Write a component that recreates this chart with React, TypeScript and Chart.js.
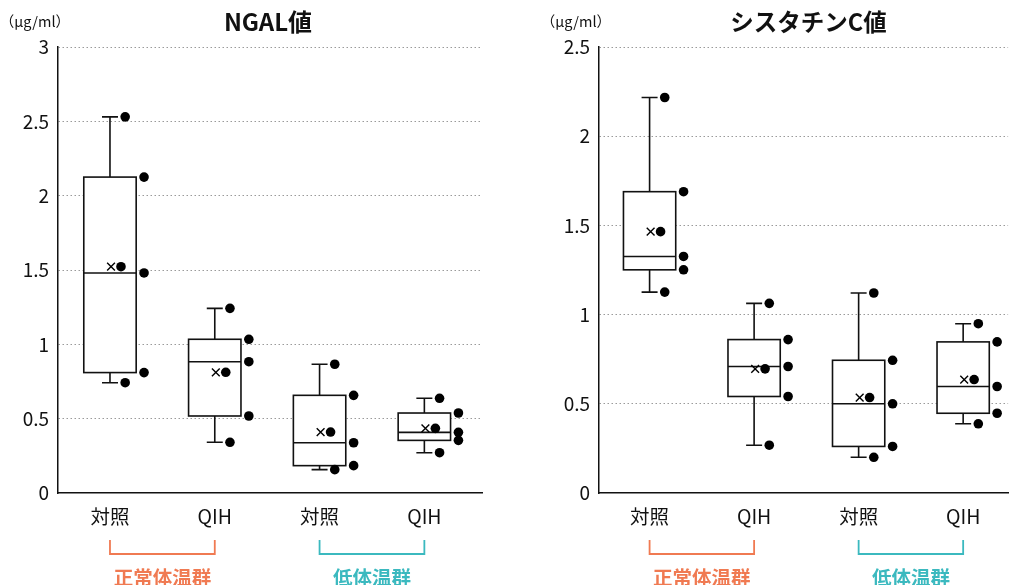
import React, { useEffect, useRef } from "react";
import { Chart, registerables } from "chart.js";

Chart.register(...registerables);

// ---------- data ----------
const categories = ["対照", "QIH", "対照", "QIH"];
const groupNames = ["正常体温群", "低体温群"];
const groupColors = ["#F07A52", "#3BB9BF"];
const unitLabel = "（μg/ml）";

const ngalTitle = "NGAL値";
const ngalPoints = [
  [2.53, 2.125, 1.48, 0.81, 0.742],
  [1.242, 1.034, 0.883, 0.518, 0.341],
  [0.866, 0.657, 0.338, 0.184, 0.157],
  [0.637, 0.538, 0.408, 0.354, 0.271],
];
const ngalMeans = [1.522, 0.812, 0.41, 0.435];
const ngalTicks = [0, 0.5, 1, 1.5, 2, 2.5, 3];

const cysTitle = "シスタチンC値";
const cysPoints = [
  [2.217, 1.689, 1.326, 1.251, 1.126],
  [1.063, 0.86, 0.709, 0.541, 0.268],
  [1.121, 0.744, 0.5, 0.261, 0.2],
  [0.949, 0.847, 0.597, 0.447, 0.388],
];
const cysMeans = [1.465, 0.696, 0.535, 0.636];
const cysTicks = [0, 0.5, 1, 1.5, 2, 2.5];

// ---------- helpers ----------
const FONT = "'Noto Sans CJK JP', 'Noto Sans', sans-serif";
const INK = "#111111";

function quartileInc(sorted: number[], p: number) {
  const pos = (sorted.length - 1) * p;
  const lo = Math.floor(pos);
  const hi = Math.ceil(pos);
  return sorted[lo] + (sorted[hi] - sorted[lo]) * (pos - lo);
}

function stats(points: number[]) {
  const s = [...points].sort((a, b) => a - b);
  return {
    min: s[0],
    q1: quartileInc(s, 0.25),
    med: quartileInc(s, 0.5),
    q3: quartileInc(s, 0.75),
    max: s[s.length - 1],
  };
}

type Cfg = {
  title: string;
  titleSize: number;
  titleShift: number;
  points: number[][];
  means: number[];
  ticks: number[];
  axisWidth: number;
  padRight: number;
  xMin: number;
  xMax: number;
  xAxisHeight: number;
};

function makePlugin(cfg: Cfg) {
  const st = cfg.points.map(stats);
  return {
    id: "boxplotDecor",
    beforeDatasetsDraw(chart: any) {
      const { ctx, scales } = chart;
      const x = scales.x;
      const y = scales.y;
      ctx.save();
      ctx.strokeStyle = INK;
      ctx.lineWidth = 1.6;
      st.forEach((s, i) => {
        const cx = x.getPixelForValue(i + 1);
        const half = x.getPixelForValue(i + 1.25) - cx;
        const cap = 8;
        const yMax = y.getPixelForValue(s.max);
        const yQ3 = y.getPixelForValue(s.q3);
        const yMed = y.getPixelForValue(s.med);
        const yQ1 = y.getPixelForValue(s.q1);
        const yMin = y.getPixelForValue(s.min);
        ctx.beginPath();
        ctx.moveTo(cx, yQ3);
        ctx.lineTo(cx, yMax);
        ctx.moveTo(cx - cap, yMax);
        ctx.lineTo(cx + cap, yMax);
        ctx.moveTo(cx, yQ1);
        ctx.lineTo(cx, yMin);
        ctx.moveTo(cx - cap, yMin);
        ctx.lineTo(cx + cap, yMin);
        ctx.stroke();
        ctx.fillStyle = "#ffffff";
        ctx.fillRect(cx - half, yQ3, half * 2, yQ1 - yQ3);
        ctx.strokeRect(cx - half, yQ3, half * 2, yQ1 - yQ3);
        ctx.beginPath();
        ctx.moveTo(cx - half, yMed);
        ctx.lineTo(cx + half, yMed);
        ctx.stroke();
      });
      ctx.restore();
    },
    afterDraw(chart: any) {
      const { ctx, chartArea, scales } = chart;
      const x = scales.x;
      ctx.save();
      ctx.fillStyle = INK;
      ctx.textAlign = "center";
      ctx.textBaseline = "middle";
      ctx.font = `bold ${cfg.titleSize}px ${FONT}`;
      ctx.fillText(cfg.title, (chartArea.left + chartArea.right) / 2 + cfg.titleShift, 22);
      ctx.font = `14.5px ${FONT}`;
      ctx.textAlign = "right";
      ctx.fillText(unitLabel, chartArea.left + 12, 21);
      const base = chartArea.bottom;
      groupNames.forEach((g, gi) => {
        const x1 = x.getPixelForValue(gi * 2 + 1);
        const x2 = x.getPixelForValue(gi * 2 + 2);
        ctx.strokeStyle = groupColors[gi];
        ctx.lineWidth = 1.8;
        ctx.beginPath();
        ctx.moveTo(x1, base + 47);
        ctx.lineTo(x1, base + 61);
        ctx.lineTo(x2, base + 61);
        ctx.lineTo(x2, base + 47);
        ctx.stroke();
        ctx.fillStyle = groupColors[gi];
        ctx.font = `bold 19.5px ${FONT}`;
        ctx.textAlign = "center";
        ctx.textBaseline = "middle";
        ctx.fillText(g, (x1 + x2) / 2, base + 85);
      });
      ctx.restore();
    },
  };
}

const OUTER_OFF = 0.145;
const INNER_OFF = 0.325;
const MEAN_DOT_OFF = 0.105;
const MEAN_X_OFF = 0.01;

function BoxChart({ cfg, left, width }: { cfg: Cfg; left: number; width: number }) {
  const ref = useRef<HTMLCanvasElement | null>(null);
  useEffect(() => {
    if (!ref.current) return;
    const pointData: { x: number; y: number }[] = [];
    cfg.points.forEach((pts, i) => {
      const s = [...pts].sort((a, b) => a - b);
      s.forEach((v, k) => {
        const outer = k === 0 || k === s.length - 1;
        pointData.push({ x: i + 1 + (outer ? OUTER_OFF : INNER_OFF), y: v });
      });
    });
    const meanDots = cfg.means.map((m, i) => ({ x: i + 1 + MEAN_DOT_OFF, y: m }));
    const meanCross = cfg.means.map((m, i) => ({ x: i + 1 + MEAN_X_OFF, y: m }));
    const yMax = cfg.ticks[cfg.ticks.length - 1];
    const chart = new Chart(ref.current, {
      type: "scatter",
      data: {
        datasets: [
          {
            data: pointData,
            pointRadius: 4.8,
            pointBackgroundColor: "#000",
            pointBorderWidth: 0,
          },
          {
            data: meanDots,
            pointRadius: 4.8,
            pointBackgroundColor: "#000",
            pointBorderWidth: 0,
          },
          {
            data: meanCross,
            pointStyle: "crossRot",
            pointRadius: 5.5,
            pointBorderColor: "#000",
            pointBorderWidth: 1.4,
          },
        ],
      },
      options: {
        animation: false,
        responsive: false,
        maintainAspectRatio: false,
        layout: { padding: { top: 47, right: cfg.padRight, bottom: 0, left: 0 } },
        plugins: {
          legend: { display: false },
          tooltip: { enabled: false },
          title: { display: false },
        },
        scales: {
          x: {
            type: "linear",
            min: cfg.xMin,
            max: cfg.xMax,
            grid: { display: false, drawTicks: false },
            border: { display: true, color: INK, width: 1.5 },
            afterBuildTicks: (scale: any) => {
              scale.ticks = categories.map((_, i) => ({ value: i + 1 }));
            },
            afterFit: (scale: any) => {
              scale.height = cfg.xAxisHeight;
            },
            ticks: {
              padding: 12,
              color: INK,
              font: { family: FONT, size: 19.5 },
              callback: (v: any) => categories[Math.round(Number(v)) - 1] ?? "",
            },
          },
          y: {
            type: "linear",
            min: 0,
            max: yMax,
            afterBuildTicks: (scale: any) => {
              scale.ticks = cfg.ticks.map((t) => ({ value: t }));
            },
            afterFit: (scale: any) => {
              scale.width = cfg.axisWidth;
            },
            grid: {
              drawTicks: false,
              color: (c: any) => (c.tick && c.tick.value === 0 ? "rgba(0,0,0,0)" : "#9a9a9a"),
              lineWidth: 1,
            },
            border: { display: true, color: INK, width: 1.5, dash: [1.5, 2.5] },
            ticks: {
              padding: 9,
              color: INK,
              font: { family: FONT, size: 19 },
              callback: (v: any) => String(v),
            },
          },
        },
      } as any,
      plugins: [makePlugin(cfg)],
    });
    return () => chart.destroy();
  }, [cfg]);
  return (
    <canvas
      ref={ref}
      width={width}
      height={585}
      style={{ position: "absolute", left, top: 0, width, height: 585 }}
    />
  );
}

const ngalCfg: Cfg = {
  title: ngalTitle,
  titleSize: 24,
  titleShift: -2,
  points: ngalPoints,
  means: ngalMeans,
  ticks: ngalTicks,
  axisWidth: 58,
  padRight: 23,
  xMin: 0.504,
  xMax: 4.55,
  xAxisHeight: 92,
};

const cysCfg: Cfg = {
  title: cysTitle,
  titleSize: 23.5,
  titleShift: 5,
  points: cysPoints,
  means: cysMeans,
  ticks: cysTicks,
  axisWidth: 94,
  padRight: 1,
  xMin: 0.516,
  xMax: 4.43,
  xAxisHeight: 92,
};

export default function App() {
  return (
    <div style={{ position: "fixed", left: 0, top: 0, width: 1015, height: 585, background: "#fff" }}>
      <BoxChart cfg={ngalCfg} left={0} width={505} />
      <BoxChart cfg={cysCfg} left={505} width={510} />
    </div>
  );
}
